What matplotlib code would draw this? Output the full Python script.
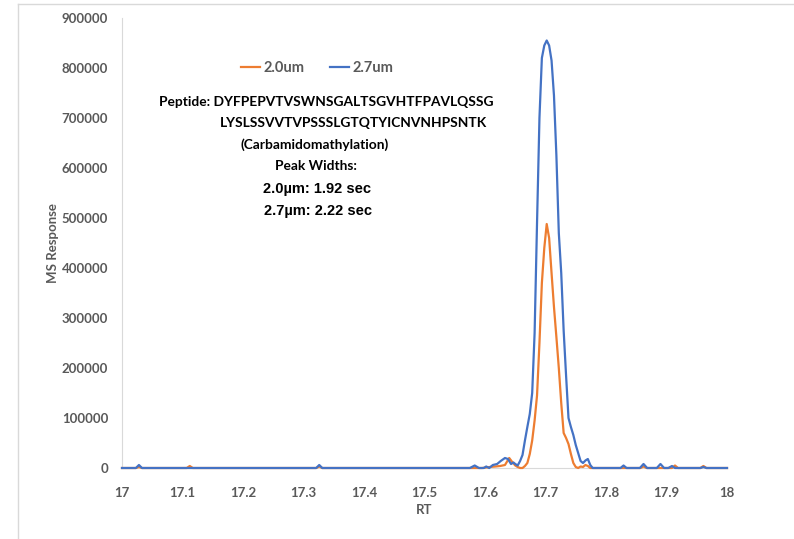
import matplotlib.pyplot as plt
from matplotlib.lines import Line2D

# Retention time / response
rt_blue = [17.000, 17.023, 17.028, 17.033, 17.321, 17.326, 17.331,
           17.575, 17.583, 17.590, 17.598, 17.602, 17.607, 17.613, 17.620,
           17.626, 17.633, 17.638, 17.643, 17.647,
           17.650, 17.654, 17.658, 17.662, 17.666, 17.670, 17.674, 17.678,
           17.682, 17.686, 17.690, 17.694, 17.698, 17.702, 17.706, 17.710,
           17.714, 17.718, 17.722, 17.726, 17.730, 17.734, 17.738, 17.742,
           17.746, 17.750, 17.754, 17.758, 17.762, 17.766, 17.770, 17.774,
           17.778, 17.824, 17.829, 17.834, 17.856, 17.862, 17.868, 17.884,
           17.890, 17.896, 17.903, 17.909, 17.914, 17.956, 17.961, 17.966,
           18.000]
resp_blue = [0, 0, 6000, 0, 0, 6000, 0,
             0, 5000, 0, 0, 3000, 0, 6000, 8000,
             14000, 20000, 18000, 8000, 11000,
             8000, 5000, 14000, 26000, 55000, 82000, 108000, 150000,
             270000, 490000, 700000, 820000, 845000, 855000, 845000, 815000,
             745000, 625000, 470000, 390000, 275000, 185000, 100000, 82000,
             66000, 46000, 30000, 14000, 10000, 15000, 18000, 6000,
             0, 0, 5000, 0, 0, 8000, 0, 0,
             8000, 0, 0, 4000, 0, 0, 2000, 0,
             0]

rt_orange = [17.000, 17.023, 17.028, 17.033, 17.107, 17.112, 17.117,
             17.321, 17.326, 17.331, 17.595, 17.608, 17.617, 17.625, 17.633,
             17.640, 17.645,
             17.650, 17.654, 17.658, 17.662, 17.666, 17.670, 17.674, 17.678,
             17.682, 17.686, 17.690, 17.694, 17.698, 17.702, 17.706, 17.710,
             17.714, 17.718, 17.722, 17.726, 17.730, 17.734, 17.738, 17.742,
             17.746, 17.750, 17.754, 17.758, 17.762, 17.766, 17.770, 17.774,
             17.778, 17.857, 17.862, 17.867, 17.909, 17.914, 17.919, 17.956,
             17.961, 17.966, 18.000]
resp_orange = [0, 0, 2000, 0, 0, 4000, 0,
               0, 3000, 0, 0, 2000, 3000, 4000, 6000,
               20000, 12000,
               5000, 2000, 0, 0, 4000, 10000, 28000, 55000,
               95000, 145000, 250000, 370000, 440000, 488000, 460000, 390000,
               322000, 262000, 200000, 130000, 70000, 60000, 48000, 28000,
               10000, 2000, 0, 3000, 2000, 6000, 4000, 0,
               0, 0, 3000, 0, 0, 5000, 0, 0,
               4000, 0, 0]

x_ticks = [17.0, 17.1, 17.2, 17.3, 17.4, 17.5, 17.6, 17.7, 17.8, 17.9, 18.0]
x_labels = ["17", "17.1", "17.2", "17.3", "17.4", "17.5", "17.6", "17.7", "17.8", "17.9", "18"]
y_ticks = list(range(0, 900001, 100000))

ORANGE = "#ED7D31"
BLUE = "#4472C4"
GREY = "#595959"

plt.rcParams['font.family'] = ['Lato', 'DejaVu Sans']

fig = plt.figure(figsize=(7.94, 5.39), dpi=100)
ax = fig.add_axes([122 / 794, 71 / 539, 605 / 794, 450 / 539])

ax.plot(rt_orange, resp_orange, color=ORANGE, lw=1.6, label="2.0um", clip_on=False, zorder=3)
ax.plot(rt_blue, resp_blue, color=BLUE, lw=1.6, label="2.7um", clip_on=False, zorder=4)

ax.set_xlim(17, 18)
ax.set_ylim(0, 900000)
ax.set_xticks(x_ticks)
ax.set_xticklabels(x_labels)
ax.set_yticks(y_ticks)
ax.set_yticklabels([str(v) for v in y_ticks])
ax.tick_params(length=0, colors=GREY, labelsize=9.5, pad=10)
for lab in ax.get_xticklabels() + ax.get_yticklabels():
    lab.set_fontweight("bold")
ax.tick_params(axis="x", pad=14)

for side in ["top", "right"]:
    ax.spines[side].set_visible(False)
ax.spines["bottom"].set_color("#D9D9D9")
ax.spines["left"].set_color("#D9D9D9")
ax.spines["left"].set_linewidth(0.8)

ax.set_xlabel("RT", color=GREY, fontsize=9.5, fontweight="bold", labelpad=3)
ax.set_ylabel("MS Response", color=GREY, fontsize=9.5, fontweight="bold", labelpad=2)

leg = ax.legend(loc="center left", bbox_to_anchor=(0.197, 0.889), ncol=2, frameon=False,
                handlelength=1.3, handletextpad=0.2, columnspacing=1.8,
                borderaxespad=0, borderpad=0,
                prop={"size": 10.5, "weight": "bold"})
for t in leg.get_texts():
    t.set_color(GREY)

# annotation block
txt = dict(transform=fig.transFigure, fontsize=9.9, fontweight="bold", color="black",
           family=["Lato", "DejaVu Sans"])
txt2 = dict(transform=fig.transFigure, fontsize=10.5, fontweight="bold", color="black",
            family=["Liberation Sans", "DejaVu Sans"])
fig.text(159 / 794, 1 - 102 / 539, "Peptide: DYFPEPVTVSWNSGALTSGVHTFPAVLQSSG", ha="left", va="center", **txt)
fig.text(220 / 794, 1 - 123 / 539, "LYSLSSVVTVPSSSLGTQTYICNVNHPSNTK", ha="left", va="center", **txt)
fig.text(315 / 794, 1 - 145 / 539, "(Carbamidomathylation)", ha="center", va="center", **txt)
fig.text(316 / 794, 1 - 166 / 539, "Peak Widths:", ha="center", va="center", **txt)
fig.text(317 / 794, 1 - 189 / 539, "2.0\u00b5m: 1.92 sec", ha="center", va="center", **txt2)
fig.text(318 / 794, 1 - 211 / 539, "2.7\u00b5m: 2.22 sec", ha="center", va="center", **txt2)

# faint frame from the screenshot
fig.add_artist(Line2D([18 / 794, 1], [1 - 4 / 539, 1 - 4 / 539], color="#D9D9D9", lw=1))
fig.add_artist(Line2D([18 / 794, 18 / 794], [0, 1 - 4 / 539], color="#D9D9D9", lw=1))

fig.savefig("out.png", dpi=100)
